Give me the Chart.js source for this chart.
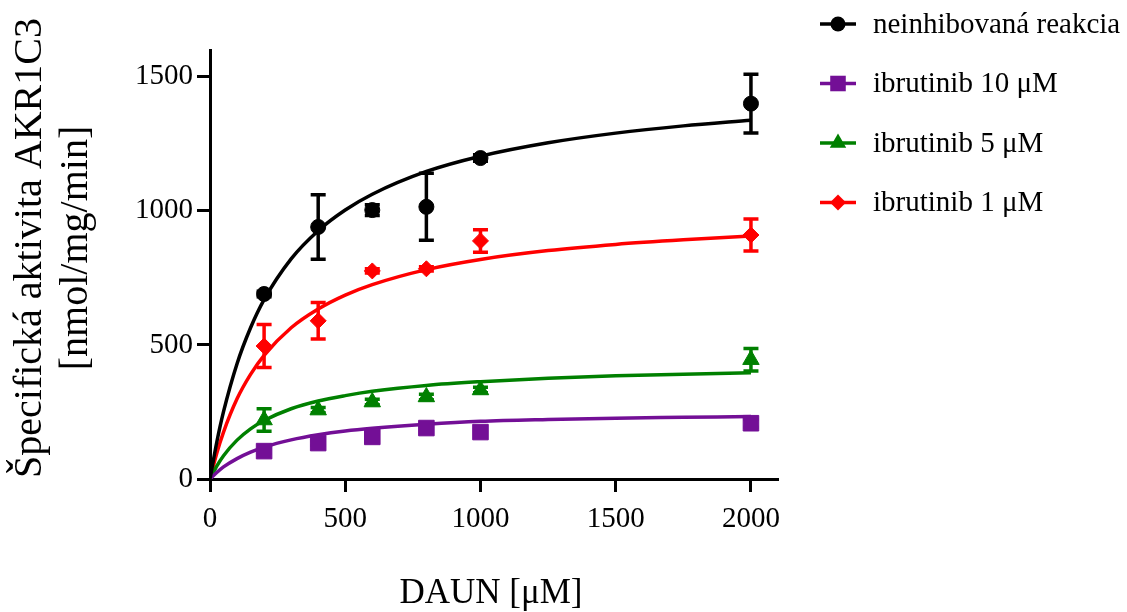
<!DOCTYPE html>
<html>
<head>
<meta charset="utf-8">
<script src="https://cdn.jsdelivr.net/npm/chart.js@4.4.1/dist/chart.umd.min.js"></script>
<style>
  html, body { margin: 0; padding: 0; background: #fff; }
  #wrap { width: 1127px; height: 612px; position: relative; }
</style>
</head>
<body>
<div id="wrap"><canvas id="kinetics"></canvas></div>
<script>
// DAUN concentrations (µM) and measured AKR1C3 activities
const daun = [200, 400, 600, 800, 1000, 2000];
const seriesNames = ['neinhibovaná reakcia', 'ibrutinib 10 μM', 'ibrutinib 5 μM', 'ibrutinib 1 μM'];
const seriesColors = ['#000000', '#730f96', '#008000', '#ff0000'];
const seriesMarkers = ['circle', 'rect', 'triangle', 'rectRot'];
const markerSizes = [7.5, 11, 9.5, 8];

const activityControl = [690, 940, 1003, 1015, 1197, 1400];
const activityIbr10 = [104, 134, 157, 190, 175, 208];
const activityIbr5 = [220, 257, 287, 306, 332, 445];
const activityIbr1 = [496, 590, 776, 784, 888, 910];

const sdControl = [10, 120, 20, 125, 12, 110];
const sdIbr10 = [8, 8, 8, 8, 8, 15];
const sdIbr5 = [42, 10, 10, 10, 10, 42];
const sdIbr1 = [80, 68, 8, 8, 42, 60];

// Michaelis-Menten fits, sampled along the DAUN axis
const fitX = [0, 25, 50, 100, 150, 200, 300, 400, 500, 600, 800, 1000, 1250, 1500, 1750, 2000];
const fitControl = [0, 137, 251, 430, 564, 669, 821, 926, 1003, 1062, 1147, 1204, 1254, 1290, 1317, 1338];
const fitIbr10 = [0, 24, 45, 76, 100, 119, 146, 165, 179, 189, 204, 215, 222, 227, 230, 233];
const fitIbr5 = [0, 48, 87, 145, 187, 218, 262, 291, 311, 327, 349, 363, 376, 385, 391, 396];
const fitIbr1 = [0, 96, 175, 299, 390, 461, 564, 634, 686, 725, 781, 819, 852, 875, 892, 906];

const xTicks = [0, 500, 1000, 1500, 2000];
const yTicks = [0, 500, 1000, 1500];

const FONT = 'Liberation Serif';

const values = [activityControl, activityIbr10, activityIbr5, activityIbr1];
const sds = [sdControl, sdIbr10, sdIbr5, sdIbr1];
const fits = [fitControl, fitIbr10, fitIbr5, fitIbr1];

const series = seriesNames.map((name, i) => ({
  name, color: seriesColors[i], marker: seriesMarkers[i], size: markerSizes[i],
  values: values[i], sd: sds[i], fit: fits[i]
}));

// points first so they end up drawn on top of the curves
const pointSets = series.map(s => ({
  type: 'scatter',
  data: daun.map((x, i) => ({ x, y: s.values[i] })),
  pointStyle: s.marker,
  pointRadius: s.size,
  backgroundColor: s.color,
  borderColor: s.color,
  borderWidth: 1
}));
const curveSets = series.map(s => ({
  type: 'line',
  data: fitX.map((x, i) => ({ x, y: s.fit[i] })),
  borderColor: s.color,
  borderWidth: 3.5,
  pointRadius: 0,
  fill: false,
  cubicInterpolationMode: 'monotone'
}));

const errorBars = {
  id: 'errorBars',
  beforeDatasetsDraw(chart) {
    const { ctx, scales: { x, y } } = chart;
    ctx.save();
    ctx.lineWidth = 3.5;
    series.forEach(s => {
      ctx.strokeStyle = s.color;
      s.values.forEach((v, i) => {
        const px = x.getPixelForValue(daun[i]);
        const top = y.getPixelForValue(v + s.sd[i]);
        const bot = y.getPixelForValue(v - s.sd[i]);
        ctx.beginPath();
        ctx.moveTo(px, top); ctx.lineTo(px, bot);
        ctx.moveTo(px - 7.5, top); ctx.lineTo(px + 7.5, top);
        ctx.moveTo(px - 7.5, bot); ctx.lineTo(px + 7.5, bot);
        ctx.stroke();
      });
    });
    ctx.restore();
  }
};

// axis titles and the legend on the right
const labels = {
  id: 'labels',
  afterDraw(chart) {
    const { ctx } = chart;
    ctx.save();
    ctx.fillStyle = '#000';
    ctx.textAlign = 'center';
    ctx.textBaseline = 'alphabetic';

    ctx.font = `35px "${FONT}"`;
    ctx.fillText('DAUN [μM]', 491, 603);

    ctx.font = `40px "${FONT}"`;
    [['Špecifická aktivita AKR1C3', 41], ['[nmol/mg/min]', 87]].forEach(([t, bx]) => {
      ctx.save();
      ctx.translate(bx, 248);
      ctx.rotate(-Math.PI / 2);
      ctx.fillText(t, 0, 0);
      ctx.restore();
    });

    ctx.font = `29px "${FONT}"`;
    ctx.textAlign = 'left';
    ctx.textBaseline = 'middle';
    series.forEach((s, i) => {
      const ly = 24 + i * 59.5;
      ctx.strokeStyle = s.color;
      ctx.fillStyle = s.color;
      ctx.lineWidth = 3.5;
      ctx.beginPath();
      ctx.moveTo(820, ly); ctx.lineTo(856, ly);
      ctx.stroke();
      Chart.helpers.drawPoint(ctx, { pointStyle: s.marker, radius: s.size, rotation: 0, borderWidth: 0 }, 838, ly);
      ctx.fillStyle = '#000';
      ctx.fillText(s.name, 873, ly + 1);
    });
    ctx.restore();
  }
};

const axisStyle = {
  border: { color: '#000', width: 3 },
  grid: { drawOnChartArea: false, drawTicks: true, tickLength: 13, tickWidth: 3, tickColor: '#000', color: '#000' },
  ticks: { color: '#000', font: { family: FONT, size: 29 }, padding: 4, maxRotation: 0, callback: v => String(v) }
};

new Chart(document.getElementById('kinetics'), {
  type: 'scatter',
  data: { datasets: [...pointSets, ...curveSets] },
  options: {
    responsive: true,
    maintainAspectRatio: false,
    animation: false,
    layout: { padding: { top: 50, right: 349, left: 0, bottom: 0 } },
    plugins: { legend: { display: false }, tooltip: { enabled: false } },
    scales: {
      x: {
        ...axisStyle,
        ticks: { ...axisStyle.ticks, padding: 10 },
        type: 'linear', min: 0, max: 2100,
        afterBuildTicks: s => { s.ticks = xTicks.map(v => ({ value: v })); },
        afterFit: s => { s.height = 133; }
      },
      y: {
        ...axisStyle,
        type: 'linear', min: 0, max: 1600,
        afterBuildTicks: s => { s.ticks = yTicks.map(v => ({ value: v })); },
        afterFit: s => { s.width = 210; }
      }
    }
  },
  plugins: [errorBars, labels]
});
</script>
</body>
</html>
